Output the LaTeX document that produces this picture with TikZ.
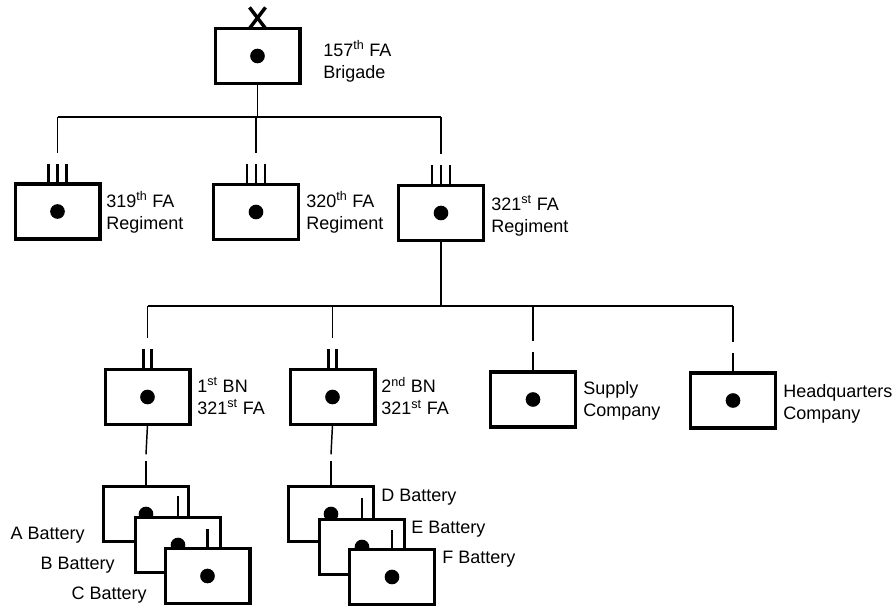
\documentclass[tikz,border=0pt]{standalone}
\usepackage{fontspec}
\setmainfont{Liberation Sans}
\usetikzlibrary{calc}
\begin{document}
\begin{tikzpicture}[x=0.75pt,y=-0.75pt,
  unit/.style={draw, line width=2.6pt, fill=white, minimum width=63.4pt, minimum height=41.4pt, inner sep=0pt, outer sep=0pt},
  conn/.style={line width=1.1pt},
  echmark/.style={line width=2.2pt},
  lab/.style={font=\fontsize{13.5}{16.5}\selectfont, align=left, inner sep=0pt, anchor=west},
  blab/.style={font=\fontsize{13.5}{16.5}\selectfont, inner sep=0pt},
]
\useasboundingbox (0,0) rectangle (896,608);

% upper units
\node[unit] (brig) at (257.5,56) {};
\node[unit] (r319) at (57.5,211.5) {};
\node[unit] (r320) at (256,212) {};
\node[unit] (r321) at (441,213) {};
\node[unit] (bn1) at (147.5,397) {};
\node[unit] (bn2) at (332.5,397) {};
\node[unit] (sup) at (533,399.5) {};
\node[unit] (hq) at (733,400.5) {};
\foreach \n in {brig,r319,r320,r321,bn1,bn2,sup,hq} \fill (\n) circle[radius=5.5pt];

% brigade X
\draw[line width=2.6pt] ($(brig.north)+(-8,0)$) -- ++(16,-21);
\draw[line width=2.6pt] ($(brig.north)+(8,0)$) -- ++(-16,-21);

% brigade -> regiments
\coordinate (j1) at (257.5,117);
\draw[conn] (brig.south) -- (j1);
\draw[conn] (j1 -| r319) -- (j1 -| r321);
\foreach \n in {r319,r320,r321} \draw[conn] (j1 -| \n) -- ($(\n.north)+(0,-31)$);
\foreach \n in {r319,r320,r321} \foreach \dx in {-9,0,9} \draw[echmark] ($(\n.north)+(\dx,0)$) -- ++(0,-20);

% regiment -> battalions / companies
\coordinate (j2) at (441,306);
\draw[conn] (r321.south) -- (j2);
\draw[conn] (j2 -| bn1) -- (j2 -| hq);
\foreach \n in {bn1,bn2,sup,hq} \draw[conn] (j2 -| \n) -- ($(\n.north)+(0,-31)$);
\foreach \n in {bn1,bn2} \foreach \dx in {-4,4} \draw[echmark] ($(\n.north)+(\dx,0)$) -- ++(0,-20);
\foreach \n in {sup,hq} \draw[echmark] (\n.north) -- ++(0,-20);

% batteries of 1st BN
\node[unit] (ba) at (146,514) {};
\fill (ba) circle[radius=5.5pt];
\node[unit] (bb) at (178,545) {};
\fill (bb) circle[radius=5.5pt];
\draw[echmark] (bb.north) -- ++(0,-21);
\node[unit] (bc) at (207.5,576) {};
\fill (bc) circle[radius=5.5pt];
\draw[echmark] (bc.north) -- ++(0,-19);
\draw[conn] (bn1.south) -- ($(ba.north)+(0,-32)$);
\draw[echmark] (ba.north) -- ++(0,-25);

% batteries of 2nd BN
\node[unit] (bd) at (331,514) {};
\fill (bd) circle[radius=5.5pt];
\node[unit] (be) at (362,547) {};
\fill (be) circle[radius=5.5pt];
\draw[echmark] (be.north) -- ++(0,-21);
\node[unit] (bf) at (392,577) {};
\fill (bf) circle[radius=5.5pt];
\draw[echmark] (bf.north) -- ++(0,-19);
\draw[conn] (bn2.south) -- ($(bd.north)+(0,-32)$);
\draw[echmark] (bd.north) -- ++(0,-25);

% labels
\node[lab] (lbrig) at (323,61) {157\textsuperscript{th} FA\\Brigade};
\node[lab] (l319) at (106,212) {319\textsuperscript{th} FA\\Regiment};
\node[lab] (l320) at (306,212) {320\textsuperscript{th} FA\\Regiment};
\node[lab] (l321) at (491,216) {321\textsuperscript{st} FA\\Regiment};
\node[lab] (lbn1) at (197,396) {1\textsuperscript{st} BN\\321\textsuperscript{st} FA};
\node[lab] (lbn2) at (381,396) {2\textsuperscript{nd} BN\\321\textsuperscript{st} FA};
\node[lab] (lsup) at (583,401) {Supply\\Company};
\node[lab] (lhq) at (783,404) {Headquarters\\Company};

\node[blab, anchor=east] (la) at (85,535) {A Battery};
\node[blab, anchor=east] (lb) at (115,565) {B Battery};
\node[blab, anchor=east] (lc) at (147,595) {C Battery};
\node[blab, anchor=west] (ld) at (381,497) {D Battery};
\node[blab, anchor=west] (le) at (411,529) {E Battery};
\node[blab, anchor=west] (lf) at (442,559) {F Battery};
\end{tikzpicture}
\end{document}
